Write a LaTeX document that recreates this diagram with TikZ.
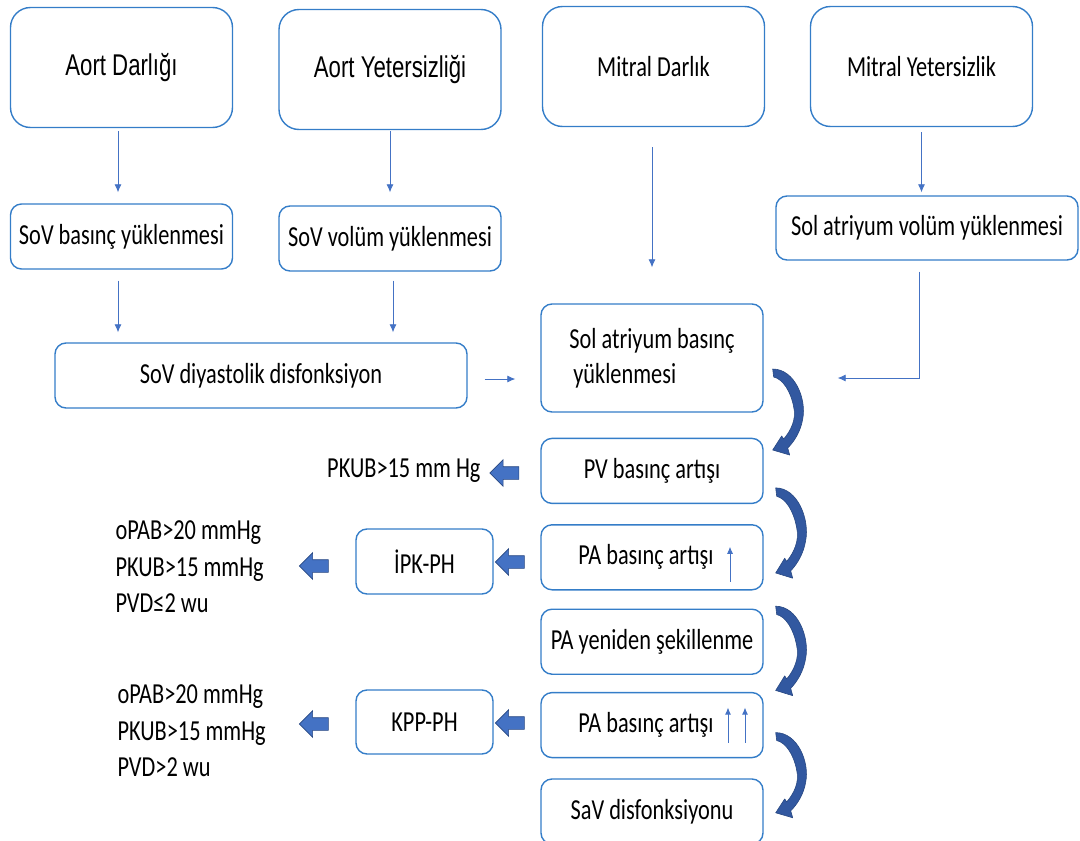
\documentclass[tikz,border=0pt]{standalone}
\usepackage{fontspec}
\setmainfont[FakeStretch=0.77]{Carlito}
\newfontfamily\aortfont[FakeStretch=0.74]{Liberation Sans}
\usetikzlibrary{arrows.meta,shapes.arrows,positioning,calc}
\definecolor{boxblue}{RGB}{52,125,200}
\definecolor{linkblue}{RGB}{68,114,196}
\definecolor{navy}{RGB}{40,72,130}
\definecolor{curveblue}{RGB}{50,88,160}

\newcommand{\bendarrow}[2][1]{%
  \begin{scope}[shift={#2}, yscale=#1]
    \filldraw [curvy] (0,0) .. controls (22,0) and (34,30) .. (30,50)
      .. controls (28,62) and (22,72) .. (15,79) -- (17,86) -- (0,81) -- (9,67) -- (11,70)
      .. controls (18,62) and (24,50) .. (21,38) .. controls (18,22) and (10,10) .. (1,8) -- cycle;
  \end{scope}}

\begin{document}
\begin{tikzpicture}
    [x=1pt, y=-1pt,
    font=\fontsize{29}{35}\selectfont,
    topbox/.style = {draw=boxblue, line width=1.4pt, rounded corners=20pt,
      minimum width=222pt, minimum height=120pt, inner sep=0pt},
    stepbox/.style = {draw=boxblue, line width=1.4pt, rounded corners=11pt,
      minimum width=222pt, minimum height=65pt, inner sep=0pt, align=center},
    post/.style = {->, >={Latex[length=8pt,width=7pt]}, draw=linkblue, line width=0.8pt},
    rise/.style = {->, >={Latex[length=7pt,width=6pt]}, draw=linkblue, line width=0.8pt},
    fat arrow/.style = {single arrow, shape border rotate=180, fill=linkblue, draw=navy,
      line width=0.6pt, minimum height=29pt, text height=12pt, text depth=0pt,
      inner sep=0pt, single arrow head extend=7pt},
    curvy/.style = {fill=curveblue, draw=navy, line width=0.6pt, line join=round}]

    \useasboundingbox (0,0) rectangle (1080,841);

    % top row
    \node [topbox, font=\aortfont\fontsize{30}{36}\selectfont] (AD) at (121.5,67.5) {Aort Darlığı};
    \node [topbox, font=\aortfont\fontsize{30}{36}\selectfont] (AY) at (390,69.5) {Aort Yetersizliği};
    \node [topbox] (MD) at (653.5,66.5) {Mitral Darlık};
    \node [topbox] (MY) at (921.5,66.5) {Mitral Yetersizlik};

    \node [stepbox] (SoVP) at (121.5,236.5) {SoV basınç yüklenmesi};
    \node [stepbox] (SoVV) at (390,238.5) {SoV volüm yüklenmesi};
    \node [stepbox, minimum width=302pt, minimum height=64pt] (SAV) at (927,228) {Sol atriyum volüm yüklenmesi};
    \node [stepbox, minimum width=412pt] (SoVD) at (261,375.5) {SoV diyastolik disfonksiyon};

    % right column
    \node [stepbox, minimum height=108pt, align=left] (SAP) at (652,358) {Sol atriyum basınç\\\hspace{4pt}yüklenmesi};
    \node [stepbox] (PV) [below=25pt of SAP] {PV basınç artışı};
    \node [stepbox] (PA1) [below=20pt of PV] {PA basınç artışı\makebox[12pt]{}};
    \node [stepbox] (PAY) [below=18pt of PA1] {PA yeniden şekillenme};
    \node [stepbox] (PA2) [below=17pt of PAY] {PA basınç artışı\makebox[12pt]{}};
    \node [stepbox] (SaV) [below=20pt of PA2] {SaV disfonksiyonu};

    % left side
    \node [stepbox, minimum width=137pt] (IPK) at (424.5,561.5) {İPK-PH};
    \node [stepbox, minimum width=137pt, minimum height=64pt] (KPP) at (424.5,722) {KPP-PH};
    \node [anchor=east] (PKUB) at (484,471) {PKUB>15 mm Hg};
    \node [anchor=west, align=left, font=\fontsize{29}{36.5}\selectfont] (IPKcrit) at (112,567)
      {oPAB>20 mmHg\\PKUB>15 mmHg\\PVD≤2 wu};
    \node [anchor=west, align=left, font=\fontsize{29}{36.5}\selectfont] (KPPcrit) at (114,731)
      {oPAB>20 mmHg\\PKUB>15 mmHg\\PVD>2 wu};

    \node [fat arrow] (PVout) at (507.5,473) {};
    \node [fat arrow] (IPKin) at (513,562) {};
    \node [fat arrow] (IPKout) at (317,566) {};
    \node [fat arrow] (KPPin) at (513,723) {};
    \node [fat arrow] (KPPout) at (317,724) {};

    % thin connectors
    \draw [post, shorten <=3pt, shorten >=11pt] ([xshift=-3.5pt]AD.south) -- ([xshift=-3.5pt]SoVP.north);
    \draw [post, shorten <=1pt, shorten >=13pt] (AY.south) -- (SoVV.north);
    \draw [post, shorten <=20pt, shorten >=36pt] ([xshift=-1.5pt]MD.south) -- (SAP.north);
    \draw [post, shorten <=5pt, shorten >=3pt] (MY.south) -- (MY.south |- SAV.north);
    \draw [post, shorten <=11pt, shorten >=10pt] ([xshift=-3.5pt]SoVP.south) -- ([xshift=-3.5pt]SoVP.south |- SoVD.north);
    \draw [post, shorten <=9pt, shorten >=10pt] ([xshift=3pt]SoVV.south) -- ([xshift=3pt]SoVV.south |- SoVD.north);
    \draw [post, shorten <=17pt, shorten >=25pt] ([yshift=-3.5pt]SoVD.east) -- ([yshift=-3.5pt]SoVD.east -| SAP.west);
    \draw [post, shorten <=11pt, shorten >=74pt] ([xshift=-8pt]SAV.south) |- ([yshift=-20pt]SAP.east);

    \draw [rise] ([xshift=78pt,yshift=-24.5pt]PA1.center) -- ++(0,-35);
    \draw [rise] ([xshift=76pt,yshift=-17.5pt]PA2.center) -- ++(0,-35);
    \draw [rise] ([xshift=93pt,yshift=-17.5pt]PA2.center) -- ++(0,-35);

    % curved block arrows
    \bendarrow[1]{([xshift=9pt,yshift=-11pt]SAP.east)}
    \bendarrow[1.05]{([xshift=12pt,yshift=-17pt]PV.east)}
    \bendarrow[1.04]{([xshift=12pt,yshift=35.5pt]PAY.east)}
    \bendarrow[0.99]{([xshift=12pt,yshift=-7.5pt]PA2.east)}
\end{tikzpicture}
\end{document}
